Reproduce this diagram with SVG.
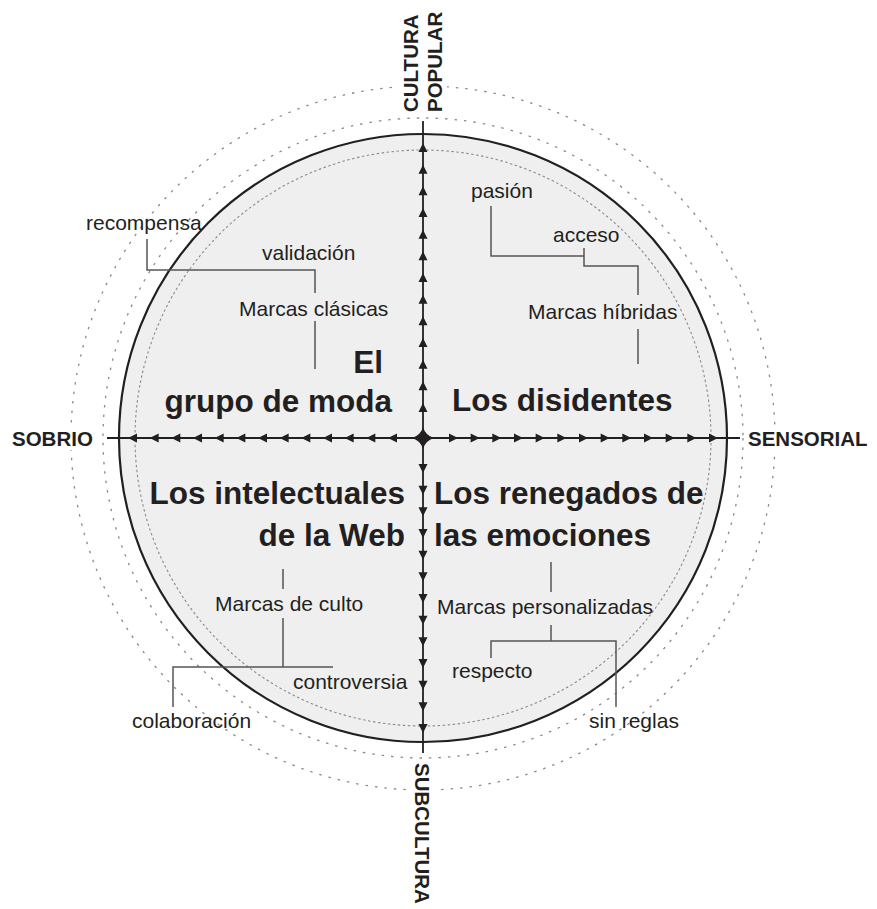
<svg xmlns="http://www.w3.org/2000/svg" width="877" height="909" viewBox="0 0 877 909">
<style>
.lbl{font-family:"Liberation Sans",Arial,sans-serif;font-size:21px;fill:#231f20}
.ttl{font-family:"Liberation Sans",Arial,sans-serif;font-size:31.5px;font-weight:bold;fill:#231f20}
.ax{font-family:"Liberation Sans",Arial,sans-serif;font-size:20.5px;font-weight:bold;fill:#231f20}
.conn{fill:none;stroke:#555;stroke-width:1.5}
.dot-out{fill:none;stroke:#8a8a8a;stroke-width:1.3;stroke-dasharray:2.5 7}
.dot-in{fill:none;stroke:#8a8a8a;stroke-width:1.1;stroke-dasharray:2.5 2.5}
.axis{stroke:#231f20;stroke-width:1.8}
.arr{fill:#231f20}
</style>
<defs>
<path id="arrows" d="M26,-4.5L35,0L26,4.5Z M47.67,-4.5L56.67,0L47.67,4.5Z M69.33,-4.5L78.33,0L69.33,4.5Z M91,-4.5L100,0L91,4.5Z M112.67,-4.5L121.67,0L112.67,4.5Z M134.33,-4.5L143.33,0L134.33,4.5Z M156,-4.5L165,0L156,4.5Z M177.67,-4.5L186.67,0L177.67,4.5Z M199.33,-4.5L208.33,0L199.33,4.5Z M221,-4.5L230,0L221,4.5Z M242.67,-4.5L251.67,0L242.67,4.5Z M264.33,-4.5L273.33,0L264.33,4.5Z M286,-4.5L295,0L286,4.5Z"/>
</defs>
<rect width="877" height="909" fill="#fff"/>
<g id="rings">
<circle cx="423" cy="438" r="352" class="dot-out"/>
<circle cx="423" cy="438" r="320" class="dot-out"/>
<circle cx="423" cy="438" r="304" fill="#efefef" stroke="#231f20" stroke-width="2.2"/>
<circle cx="423" cy="438" r="288" class="dot-in"/>
</g>
<g id="connectors">
<polyline class="conn" points="147,239 147,270 315,270 315,293"/>
<polyline class="conn" points="315,321 315,369"/>
<polyline class="conn" points="491,206 491,256 584,256"/>
<polyline class="conn" points="584,248 584,266 638,266 638,295"/>
<polyline class="conn" points="638,329 638,364"/>
<polyline class="conn" points="283,569 283,589"/>
<polyline class="conn" points="283,618 283,667"/>
<polyline class="conn" points="173,707 173,667 333,667"/>
<polyline class="conn" points="551,562 551,592"/>
<polyline class="conn" points="551,625 551,641"/>
<polyline class="conn" points="491,658 491,641 616,641 616,707"/>
</g>
<g id="axes">
<line class="axis" x1="423" y1="121" x2="423" y2="753"/>
<line class="axis" x1="107" y1="438" x2="740" y2="438"/>
<g class="arr" transform="translate(423,438)">
<use href="#arrows"/>
<use href="#arrows" transform="rotate(90)"/>
<use href="#arrows" transform="rotate(180)"/>
<use href="#arrows" transform="rotate(270)"/>
<path d="M0,-11Q2.5,-2.5 11,0Q2.5,2.5 0,11Q-2.5,2.5 -11,0Q-2.5,-2.5 0,-11Z"/>
</g>
</g>
<g id="axis-top">
<rect x="399" y="5" width="48" height="112" fill="#fff"/>
<text class="ax" transform="translate(418,112) rotate(-90)">CULTURA</text>
<text class="ax" transform="translate(442,112) rotate(-90)">POPULAR</text>
</g>
<g id="axis-bottom">
<rect x="411" y="759" width="26" height="150" fill="#fff"/>
<text class="ax" transform="translate(415,763) rotate(90)">SUBCULTURA</text>
</g>
<g id="axis-left">
<rect x="8" y="428" width="92" height="22" fill="#fff"/>
<text class="ax" x="12" y="446">SOBRIO</text>
</g>
<g id="axis-right">
<rect x="744" y="428" width="128" height="22" fill="#fff"/>
<text class="ax" x="748" y="446">SENSORIAL</text>
</g>
<g id="q-grupo-de-moda">
<text class="ttl" x="383" y="373" text-anchor="end">El</text>
<text class="ttl" x="392" y="412" text-anchor="end">grupo de moda</text>
</g>
<g id="q-disidentes">
<text class="ttl" x="452" y="411">Los disidentes</text>
</g>
<g id="q-intelectuales">
<text class="ttl" x="405" y="504" text-anchor="end">Los intelectuales</text>
<text class="ttl" x="405" y="546" text-anchor="end">de la Web</text>
</g>
<g id="q-renegados">
<text class="ttl" x="434" y="504">Los renegados de</text>
<text class="ttl" x="434" y="546">las emociones</text>
</g>
<g id="n-recompensa"><text class="lbl" x="86" y="230">recompensa</text></g>
<g id="n-validacion"><text class="lbl" x="262" y="260">validación</text></g>
<g id="n-marcas-clasicas"><text class="lbl" x="239" y="316">Marcas clásicas</text></g>
<g id="n-pasion"><text class="lbl" x="471" y="198">pasión</text></g>
<g id="n-acceso"><text class="lbl" x="553" y="242">acceso</text></g>
<g id="n-marcas-hibridas"><text class="lbl" x="528" y="319">Marcas híbridas</text></g>
<g id="n-marcas-culto"><text class="lbl" x="215" y="611">Marcas de culto</text></g>
<g id="n-controversia"><text class="lbl" x="293" y="689">controversia</text></g>
<g id="n-colaboracion"><text class="lbl" x="132" y="728">colaboración</text></g>
<g id="n-marcas-personalizadas"><text class="lbl" x="437" y="614">Marcas personalizadas</text></g>
<g id="n-respecto"><text class="lbl" x="452" y="678">respecto</text></g>
<g id="n-sin-reglas"><text class="lbl" x="589" y="728">sin reglas</text></g>
</svg>
